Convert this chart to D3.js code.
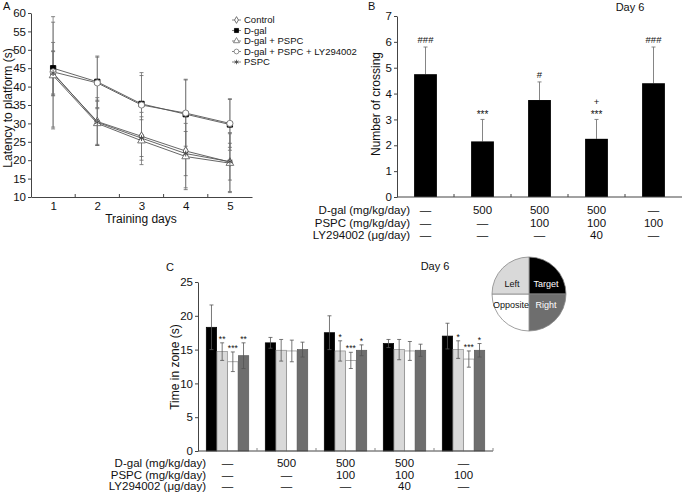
<!DOCTYPE html>
<html><head><meta charset="utf-8">
<script src="https://cdn.jsdelivr.net/npm/d3@7"></script>
<style>
body{margin:0;background:#fff;}
text{font-family:"Liberation Sans",Arial,Helvetica,sans-serif;fill:#111;}
</style></head>
<body>
<script>
// ---------- DATA ----------
// Panel A
const days = [1, 2, 3, 4, 5];
const seriesNames = ["Control", "D-gal", "D-gal + PSPC", "D-gal + PSPC + LY294002", "PSPC"];
const controlMean = [43.5, 30.5, 26.5, 22.5, 19.5];
const controlSD   = [6, 6.5, 6.5, 10, 8];
const dgalMean    = [45, 41.3, 35.3, 32.5, 29.7];
const dgalSD      = [7, 7, 8.5, 9.5, 7];
const dgalPspcMean = [43, 30, 25.3, 21, 19.2];
const dgalPspcSD   = [14.5, 6, 6.5, 9, 8];
const lyMean      = [44, 41, 35, 32.8, 30];
const lySD        = [15, 7, 8, 9, 6.5];
const pspcMean    = [43.7, 30.3, 26, 21.8, 19.6];
const pspcSD      = [6, 6, 5, 6, 5];
const yTicksA = [10, 15, 20, 25, 30, 35, 40, 45, 50, 55, 60];

// Panel B
const groupsB = ["g1", "g2", "g3", "g4", "g5"];
const crossingMean = [4.75, 2.15, 3.75, 2.25, 4.4];
const crossingErr  = [1.05, 0.85, 0.7, 0.75, 1.4];
const crossingSig  = [["###"], ["***"], ["#"], ["+", "***"], ["###"]];
const yTicksB = [0, 1, 2, 3, 4, 5, 6, 7];

// Table (shared by B and C)
const rowLabels = ["D-gal (mg/kg/day)", "PSPC (mg/kg/day)", "LY294002 (\u03bcg/day)"];
const dgalRow = ["\u2014", "500", "500", "500", "\u2014"];
const pspcRow = ["\u2014", "\u2014", "100", "100", "100"];
const lyRow   = ["\u2014", "\u2014", "\u2014", "40", "\u2014"];

// Panel C
const zones = ["Target", "Left", "Opposite", "Right"];
const targetMean = [18.3, 16.0, 17.5, 15.9, 17.0];
const targetErr  = [3.3, 0.8, 2.5, 0.6, 1.9];
const leftMean   = [14.7, 14.9, 14.8, 15.0, 15.0];
const leftErr    = [1.3, 1.6, 1.5, 1.5, 1.3];
const oppMean    = [13.2, 14.8, 13.4, 14.8, 13.6];
const oppErr     = [1.45, 1.6, 1.2, 1.4, 1.2];
const rightMean  = [14.1, 15.0, 14.9, 14.9, 14.9];
const rightErr   = [1.9, 1.1, 0.8, 0.9, 1.0];
const leftSig  = ["**", "", "*", "", "*"];
const oppSig   = ["***", "", "***", "", "***"];
const rightSig = ["**", "", "*", "", "*"];
const yTicksC = [0, 5, 10, 15, 20, 25];
const pieZones = ["Target", "Right", "Opposite", "Left"];

// ---------- DRAW ----------
const svg = d3.select("body").append("svg").attr("width", 683).attr("height", 494);
const axisColor = "#444";
const fmt = d3.format("d");
function styleAxis(g) {
  g.select(".domain").attr("stroke", axisColor).attr("stroke-width", 1);
  g.selectAll(".tick line").attr("stroke", axisColor);
  g.selectAll(".tick text").style("font-family", '"Liberation Sans",Arial,sans-serif').attr("fill", "#111").attr("font-size", 11.5);
}

// ===== Panel A =====
const xA = d3.scaleLinear().domain([0.5, 5.5]).range([31, 252]);
const yA = d3.scaleLinear().domain([10, 60]).range([197, 13]);
const gA = svg.append("g");
gA.append("g").attr("transform", "translate(31,0)")
  .call(d3.axisLeft(yA).tickValues(yTicksA).tickFormat(fmt).tickSize(3).tickSizeOuter(0).tickPadding(2))
  .call(styleAxis);
gA.append("g").attr("transform", "translate(0,197)")
  .call(d3.axisBottom(xA).tickValues(days).tickFormat(fmt).tickSize(0).tickSizeOuter(0).tickPadding(5))
  .call(styleAxis);
gA.selectAll(".minorA").data([1.5, 2.5, 3.5, 4.5]).enter().append("line")
  .attr("x1", d => xA(d)).attr("x2", d => xA(d)).attr("y1", 197).attr("y2", 194).attr("stroke", axisColor);
gA.append("text").attr("x", 3).attr("y", 10).attr("font-size", 11).text("A");
gA.append("text").attr("transform", "translate(12,108) rotate(-90)").attr("text-anchor", "middle")
  .attr("font-size", 12).text("Latency to platform (s)");
gA.append("text").attr("x", 141).attr("y", 223).attr("text-anchor", "middle").attr("font-size", 12).text("Training days");

const seriesA = [
  {name: seriesNames[0], mean: controlMean, sd: controlSD, sym: d3.symbolDiamond, size: 22, fill: "#fff", stroke: "#555"},
  {name: seriesNames[1], mean: dgalMean, sd: dgalSD, sym: d3.symbolSquare, size: 28, fill: "#000", stroke: "#000"},
  {name: seriesNames[2], mean: dgalPspcMean, sd: dgalPspcSD, sym: d3.symbolTriangle, size: 26, fill: "#fff", stroke: "#666"},
  {name: seriesNames[3], mean: lyMean, sd: lySD, sym: d3.symbolCircle, size: 30, fill: "#fff", stroke: "#777"},
  {name: seriesNames[4], mean: pspcMean, sd: pspcSD, sym: d3.symbolAsterisk || d3.symbolCross, size: 24, fill: "none", stroke: "#444"}
];
seriesA.forEach(s => {
  days.forEach((d, i) => {
    const x = xA(d), top = yA(s.mean[i] + s.sd[i]), bot = yA(s.mean[i] - s.sd[i]);
    gA.append("line").attr("x1", x).attr("x2", x).attr("y1", top).attr("y2", bot).attr("stroke", "#777").attr("stroke-width", 0.8);
    [top, bot].forEach(yy => gA.append("line").attr("x1", x - 2).attr("x2", x + 2).attr("y1", yy).attr("y2", yy).attr("stroke", "#666").attr("stroke-width", 0.8));
  });
});
const lineA = d3.line().x((d, i) => xA(days[i])).y(d => yA(d));
seriesA.forEach(s => {
  gA.append("path").attr("d", lineA(s.mean)).attr("fill", "none").attr("stroke", "#555").attr("stroke-width", 0.9);
});
seriesA.forEach(s => {
  gA.selectAll(null).data(s.mean).enter().append("path")
    .attr("transform", (d, i) => `translate(${xA(days[i])},${yA(d)})`)
    .attr("d", d3.symbol().type(s.sym).size(s.size))
    .attr("fill", s.fill).attr("stroke", s.stroke).attr("stroke-width", 0.9);
});
// legend
seriesA.forEach((s, i) => {
  const y = 20 + i * 10.5;
  gA.append("line").attr("x1", 232).attr("x2", 241).attr("y1", y).attr("y2", y).attr("stroke", "#666").attr("stroke-width", 0.8);
  gA.append("path").attr("transform", `translate(236.5,${y})`).attr("d", d3.symbol().type(s.sym).size(s.size * 0.6))
    .attr("fill", s.fill).attr("stroke", s.stroke).attr("stroke-width", 0.8);
  gA.append("text").attr("x", 244).attr("y", y + 3.3).attr("font-size", 9.5).text(s.name);
});

// ===== Panel B =====
const xB = d3.scaleBand().domain(groupsB).range([397, 682]).paddingInner(0.6).paddingOuter(0.3);
const yB = d3.scaleLinear().domain([0, 7]).range([197, 16]);
const gB = svg.append("g");
gB.append("text").attr("x", 368).attr("y", 10).attr("font-size", 11).text("B");
gB.append("text").attr("x", 630).attr("y", 11).attr("text-anchor", "middle").attr("font-size", 11).text("Day 6");
gB.append("text").attr("transform", "translate(380,104) rotate(-90)").attr("text-anchor", "middle")
  .attr("font-size", 12).text("Number of crossing");
gB.selectAll(".errB").data(groupsB).enter().append("g").each(function(d, i) {
  const g = d3.select(this), x = xB(d) + xB.bandwidth() / 2;
  const top = yB(crossingMean[i] + crossingErr[i]);
  g.append("line").attr("x1", x).attr("x2", x).attr("y1", top).attr("y2", yB(crossingMean[i])).attr("stroke", "#777").attr("stroke-width", 0.9);
  g.append("line").attr("x1", x - 2).attr("x2", x + 2).attr("y1", top).attr("y2", top).attr("stroke", "#777").attr("stroke-width", 0.9);
  crossingSig[i].forEach((t, k) => {
    const n = crossingSig[i].length;
    g.append("text").attr("x", x).attr("y", top - 4 - (n - 1 - k) * 10 + (t.indexOf("*") >= 0 ? 3 : 0))
      .attr("text-anchor", "middle").attr("font-size", t.indexOf("*") >= 0 ? 10 : 9.5).text(t);
  });
});
gB.selectAll(".barB").data(groupsB).enter().append("rect")
  .attr("x", d => xB(d)).attr("width", xB.bandwidth())
  .attr("y", (d, i) => yB(crossingMean[i])).attr("height", (d, i) => yB(0) - yB(crossingMean[i]))
  .attr("fill", "#000");
gB.append("g").attr("transform", "translate(397,0)")
  .call(d3.axisLeft(yB).tickValues(yTicksB).tickFormat(fmt).tickSize(3).tickSizeOuter(0).tickPadding(2))
  .call(styleAxis);
gB.append("line").attr("x1", 397).attr("x2", 682).attr("y1", 197).attr("y2", 197).attr("stroke", axisColor);
gB.selectAll(".minorB").data(groupsB.slice(1)).enter().append("line")
  .attr("x1", d => xB(d) - xB.step() * 0.3).attr("x2", d => xB(d) - xB.step() * 0.3)
  .attr("y1", 197).attr("y2", 194).attr("stroke", axisColor);

function drawTable(g, xs, labelX, baseY, dy) {
  const rows = [dgalRow, pspcRow, lyRow];
  rowLabels.forEach((lab, r) => {
    g.append("text").attr("x", labelX).attr("y", baseY + r * dy).attr("text-anchor", "end").attr("font-size", 11.5).text(lab);
    rows[r].forEach((v, c) => {
      g.append("text").attr("x", xs(c)).attr("y", baseY + r * dy).attr("text-anchor", "middle").attr("font-size", 11.5).text(v);
    });
  });
}
drawTable(gB, c => xB(groupsB[c]) + xB.bandwidth() / 2, 410, 214, 12.5);

// ===== Panel C =====
const xC = d3.scaleBand().domain(d3.range(5)).range([198, 493]).paddingInner(0.27).paddingOuter(0.135);
const xC2 = d3.scaleBand().domain(zones).range([0, xC.bandwidth()]).padding(0.03);
const yC = d3.scaleLinear().domain([0, 25]).range([451, 282]);
const gC = svg.append("g");
gC.append("text").attr("x", 166).attr("y", 271).attr("font-size", 11).text("C");
gC.append("text").attr("x", 435).attr("y", 270).attr("text-anchor", "middle").attr("font-size", 11).text("Day 6");
gC.append("text").attr("transform", "translate(179,367) rotate(-90)").attr("text-anchor", "middle")
  .attr("font-size", 12).text("Time in zone (s)");
const seriesC = [
  {zone: "Target", mean: targetMean, err: targetErr, sig: ["", "", "", "", ""], fill: "#000", stroke: "#000"},
  {zone: "Left", mean: leftMean, err: leftErr, sig: leftSig, fill: "#d9d9d9", stroke: "#8a8a8a"},
  {zone: "Opposite", mean: oppMean, err: oppErr, sig: oppSig, fill: "#fff", stroke: "#8a8a8a"},
  {zone: "Right", mean: rightMean, err: rightErr, sig: rightSig, fill: "#6e6e6e", stroke: "#5a5a5a"}
];
seriesC.forEach(s => {
  s.mean.forEach((m, i) => {
    const x0 = xC(i) + xC2(s.zone);
    gC.append("rect").attr("x", x0).attr("width", xC2.bandwidth())
      .attr("y", yC(m)).attr("height", yC(0) - yC(m))
      .attr("fill", s.fill).attr("stroke", s.stroke).attr("stroke-width", 0.7);
  });
});
seriesC.forEach(s => {
  s.mean.forEach((m, i) => {
    const x = xC(i) + xC2(s.zone) + xC2.bandwidth() / 2;
    const top = yC(m + s.err[i]), bot = yC(m - s.err[i]);
    const col = "#555";
    gC.append("line").attr("x1", x).attr("x2", x).attr("y1", top).attr("y2", bot).attr("stroke", col).attr("stroke-width", 0.8);
    [top, bot].forEach(yy => gC.append("line").attr("x1", x - 2).attr("x2", x + 2).attr("y1", yy).attr("y2", yy).attr("stroke", col).attr("stroke-width", 0.8));
    if (s.sig[i]) gC.append("text").attr("x", x).attr("y", top - 1).attr("text-anchor", "middle").attr("font-size", 8.5).text(s.sig[i]);
  });
});
gC.append("g").attr("transform", "translate(198,0)")
  .call(d3.axisLeft(yC).tickValues(yTicksC).tickFormat(fmt).tickSize(3).tickSizeOuter(0).tickPadding(2))
  .call(styleAxis);
gC.append("line").attr("x1", 198).attr("x2", 493).attr("y1", 451).attr("y2", 451).attr("stroke", axisColor);
gC.selectAll(".minorC").data([1, 2, 3, 4, 5]).enter().append("line")
  .attr("x1", d => 198 + d * xC.step()).attr("x2", d => 198 + d * xC.step())
  .attr("y1", 451).attr("y2", 448).attr("stroke", "#888");
drawTable(gC, c => xC(c) + xC.bandwidth() / 2, 206, 467, 11.5);

// pie
const pieColors = {Target: "#000", Right: "#6e6e6e", Opposite: "#fff", Left: "#d9d9d9"};
const pie = d3.pie().sort(null).value(1)(pieZones);
const arc = d3.arc().innerRadius(0).outerRadius(37);
const gP = svg.append("g").attr("transform", "translate(529,294)");
gP.selectAll("path").data(pie).enter().append("path").attr("d", arc)
  .attr("fill", d => pieColors[d.data]).attr("stroke", "#888").attr("stroke-width", 0.8);
const labelPos = {Left: [-17, -7], Target: [17, -7], Opposite: [-18, 14], Right: [17, 14]};
pieZones.forEach(z => {
  gP.append("text").attr("x", labelPos[z][0]).attr("y", labelPos[z][1]).attr("text-anchor", "middle")
    .attr("font-size", 9).style("fill", (z === "Target" || z === "Right") ? "#fff" : "#111").text(z);
});
</script>
</body></html>
